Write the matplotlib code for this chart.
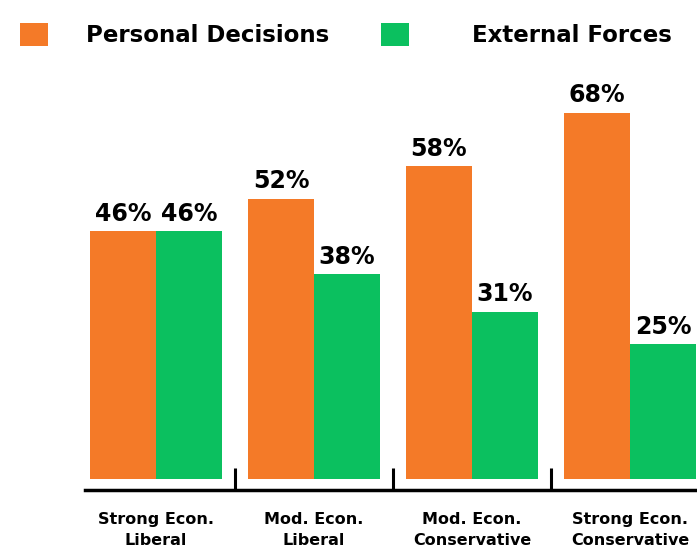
import numpy as np
import matplotlib
matplotlib.use('Agg')
import matplotlib.pyplot as plt

categories = ["Strong Econ.\nLiberal", "Mod. Econ.\nLiberal",
              "Mod. Econ.\nConservative", "Strong Econ.\nConservative"]
personal = [46, 52, 58, 68]
external = [46, 38, 31, 25]
series_names = ["Personal Decisions", "External Forces"]

orange = '#F47A28'
green = '#0BC05F'

plt.rcParams['font.family'] = ['DejaVu Sans']
plt.rcParams['font.weight'] = 'bold'

fig = plt.figure(figsize=(6.97, 5.5), dpi=100)
# axes: x from 85px to 697px, y from 479px (zero) up to the top
ax = fig.add_axes([85/697, (550-479)/550, 612/697, 479/550])

x = np.arange(len(categories))
w = 0.418
b1 = ax.bar(x - w/2, personal, w, color=orange, label=series_names[0])
b2 = ax.bar(x + w/2, external, w, color=green, label=series_names[1])

for bars, vals in [(b1, personal), (b2, external)]:
    for rect, v in zip(bars, vals):
        ax.annotate(f"{v}%", (rect.get_x() + rect.get_width()/2, v),
                    xytext=(0, 4), textcoords='offset points',
                    ha='center', va='bottom', fontsize=17, fontweight='bold')

ax.set_xlim(-0.449, 3.424)
ax.set_ylim(0, 88.9)

for s in ['top', 'right', 'left']:
    ax.spines[s].set_visible(False)
ax.spines['bottom'].set_position(('outward', 8))
ax.spines['bottom'].set_linewidth(2.5)
ax.set_yticks([])

# separators between groups as major ticks, labels on minor ticks
ax.set_xticks([0.5, 1.5, 2.5])
ax.set_xticklabels([])
ax.tick_params(axis='x', which='major', direction='in', length=16, width=2.2)
ax.set_xticks(x, minor=True)
ax.set_xticklabels(categories, minor=True, fontsize=11.5, fontweight='bold',
                   linespacing=1.5)
ax.tick_params(axis='x', which='minor', length=0, pad=16)

# one legend entry per series, placed like the reference
leg_kw = dict(loc='upper left', frameon=False, handlelength=1.2,
              handleheight=1.2, borderpad=0, borderaxespad=0,
              prop={'weight': 'bold', 'size': 16.5})
leg1 = fig.legend(handles=[b1], bbox_to_anchor=(20/697, 1 - 23/550),
                  handletextpad=1.7, **leg_kw)
leg2 = fig.legend(handles=[b2], bbox_to_anchor=(381/697, 1 - 23/550),
                  handletextpad=2.75, **leg_kw)

fig.savefig('out.png', dpi=100)
